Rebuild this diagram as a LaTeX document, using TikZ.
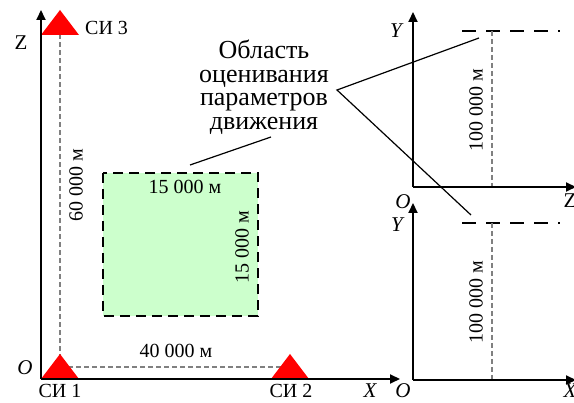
\documentclass[tikz,border=0pt]{standalone}
\usepackage{fontspec}
\setmainfont{Liberation Serif}
\usetikzlibrary{arrows.meta,calc,positioning}
\definecolor{sired}{HTML}{FF0000}
\definecolor{zonegreen}{HTML}{CCFFCC}
\definecolor{distgray}{HTML}{808080}

\begin{document}
\begin{tikzpicture}[x=1pt,y=-1pt,>={Triangle[length=10pt,width=9pt]},
  axis/.style={->,line width=2pt},
  gap/.style={distgray,line width=1.2pt,dash pattern=on 5pt off 3pt},
  rim/.style={line width=2pt,dash pattern=on 14pt off 10pt},
  lbl/.style={font=\fontsize{20}{24}\selectfont,inner sep=0pt},
  axlbl/.style={font=\fontsize{21}{24}\selectfont\itshape,inner sep=0pt},
  pointer/.style={line width=1.2pt}]
  \useasboundingbox (0,0) rectangle (574,403);
  % left: stations in the X-Z plane
  \coordinate (O1) at (41,379);
  \coordinate (si1) at (60,367);
  \coordinate (si2) at (290,367);
  \coordinate (si3) at (60,35);
  \draw[gap] (si1) -- (si2);
  \draw[gap] (si1) -- (si3);
  \fill[sired] (41,379) -- (60,354) -- (79,379) -- cycle;
  \fill[sired] (271,379) -- (290,354) -- (309,379) -- cycle;
  \fill[sired] (41,35) -- (60,10) -- (79,35) -- cycle;
  \draw[axis] (O1) -- (400,379);
  \draw[axis] (O1) -- (41,10);
  \draw[fill=zonegreen,line width=2.2pt,dash pattern=on 10pt off 6pt]
    (103,173) rectangle (258,316);
  \node[lbl,anchor=base] (zw) at (185,194) {15 000 м};
  \node[lbl,rotate=90] (zh) at (242,247) {15 000 м};
  \node[lbl,anchor=base] (dx) at (176,358) {40 000 м};
  \node[lbl,rotate=90] (dz) at (76,185) {60 000 м};
  \node[lbl,anchor=base west] (n3) at (85,35) {СИ 3};
  \node[lbl,anchor=base] (n1) at (60,398) {СИ 1};
  \node[lbl,anchor=base] (n2) at (291,398) {СИ 2};
  \node[axlbl,anchor=base] (lo) at (25,375) {O};
  \node[axlbl,anchor=base] (lx) at (370,398) {X};
  \node[lbl,font=\fontsize{21}{24}\selectfont,anchor=base] (lz) at (21,50) {Z};
  % right top: Z-Y plane
  \coordinate (O2) at (413,187);
  \coordinate (t2) at (492,31);
  \draw[rim] (462,31) -- (560,31);
  \draw[gap] (t2) -- (492,187);
  \draw[axis] (O2) -- (576,187);
  \draw[axis] (O2) -- (413,12);
  \node[lbl,rotate=90] (h2) at (476,110) {100 000 м};
  \node[axlbl,anchor=base] (y2) at (396,38) {Y};
  \node[axlbl,anchor=base] (o2) at (403,209) {O};
  \node[lbl,font=\fontsize{21}{24}\selectfont,anchor=base] (z2) at (570,208) {Z};
  % right bottom: X-Y plane
  \coordinate (O3) at (413,380);
  \coordinate (t3) at (492,223);
  \draw[rim] (462,223) -- (560,223);
  \draw[gap] (t3) -- (492,380);
  \draw[axis] (O3) -- (576,380);
  \draw[axis] (O3) -- (413,203);
  \node[lbl,rotate=90] (h3) at (476,302) {100 000 м};
  \node[axlbl,anchor=base] (y3) at (397,232) {Y};
  \node[axlbl,anchor=base] (o3) at (403,398) {O};
  \node[axlbl,anchor=base] (x3) at (570,398) {X};
  % caption and pointers
  \node[align=center,font=\fontsize{26}{23.5}\selectfont,inner sep=0pt]
    (area) at (264,87) {Область\\оценивания\\параметров\\движения};
  \coordinate (fork) at (337,90);
  \coordinate (zonetip) at (190,165);
  \coordinate (cap) at (271,137);
  \coordinate (tip2) at (479,38);
  \coordinate (tip3) at (471,215);
  \draw[pointer] (cap) -- (zonetip);
  \draw[pointer] (tip2) -- (fork) -- (tip3);
\end{tikzpicture}
\end{document}
